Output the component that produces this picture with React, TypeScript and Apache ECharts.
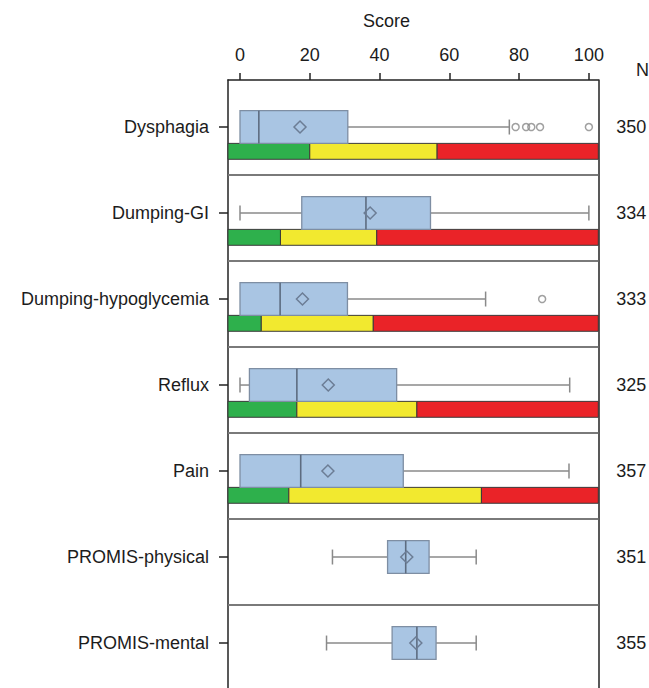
import React, { useEffect, useRef } from "react";
import * as echarts from "echarts";

// ---- data ----
const categories = [
  "Dysphagia",
  "Dumping-GI",
  "Dumping-hypoglycemia",
  "Reflux",
  "Pain",
  "PROMIS-physical",
  "PROMIS-mental",
];
const sampleSizes = [350, 334, 333, 325, 357, 351, 355];
const whiskerLow = [0, 0, 0, 0, 0, 26.5, 24.8];
const quartile1 = [0, 17.7, 0, 2.7, 0, 42.3, 43.6];
const medians = [5.4, 36.1, 11.5, 16.3, 17.4, 47.5, 50.7];
const quartile3 = [30.9, 54.6, 30.8, 44.9, 46.8, 54.2, 56.2];
const whiskerHigh = [77.2, 100, 70.4, 94.5, 94.3, 67.7, 67.7];
const means = [17.2, 37.3, 17.9, 25.3, 25.2, 47.8, 50.4];
const outliers: number[][] = [[79, 82, 83.5, 86, 100], [], [86.6], [], [], [], []];
// severity bands (green up to first, yellow up to second, red beyond)
const greenUpper = [20, 11.6, 6.1, 16.3, 14.0];
const yellowUpper = [56.5, 39.2, 38.2, 50.7, 69.2];
const xTicks = [0, 20, 40, 60, 80, 100];

// ---- layout constants ----
const ROW_OFFSET = 0.547;
const Y_MAX = 7.07;
const BOX_HALF = 0.19;
const BAND_BOTTOM = 0.375;
const CAP_HALF = 0.087;
const FONT = "'Liberation Sans', Arial, Helvetica, sans-serif";
const TEXT = "#1c1c1c";

export default function App() {
  const ref = useRef<HTMLDivElement>(null);

  useEffect(() => {
    if (!ref.current) return;
    const chart = echarts.init(ref.current, undefined, { renderer: "svg" });

    const rowCenters = categories.map((_, i) => i + ROW_OFFSET);
    const separators = categories.slice(0, -1).map((_, i) => i + ROW_OFFSET + 0.553);

    const boxData = categories.map((_, i) => [
      i,
      whiskerLow[i],
      quartile1[i],
      medians[i],
      quartile3[i],
      whiskerHigh[i],
      means[i],
    ]);
    const bandData = greenUpper.map((g, i) => [i, g, yellowUpper[i]]);
    const outlierData: number[][] = [];
    outliers.forEach((arr, i) => arr.forEach((v) => outlierData.push([v, i + ROW_OFFSET])));

    const whiskerStyle = { stroke: "#8a8a8a", lineWidth: 1.5 };

    const option: any = {
      animation: false,
      backgroundColor: "#ffffff",
      textStyle: { fontFamily: FONT },
      grid: {
        left: 228,
        right: 50.7,
        top: 80,
        bottom: 0,
        containLabel: false,
        outerBoundsMode: "none",
      },
      xAxis: {
        type: "value",
        position: "top",
        min: -3.44,
        max: 102.7,
        axisLine: { show: true, onZero: false, lineStyle: { color: "#222", width: 1.5 } },
        axisTick: {
          show: true,
          customValues: xTicks,
          length: 7,
          lineStyle: { color: "#222", width: 1.5 },
        },
        axisLabel: {
          customValues: xTicks,
          margin: 16,
          fontSize: 18,
          color: TEXT,
          fontFamily: FONT,
        },
        splitLine: { show: false },
      },
      yAxis: [
        {
          type: "value",
          inverse: true,
          min: 0,
          max: Y_MAX,
          position: "left",
          axisLine: { show: true, onZero: false, lineStyle: { color: "#222", width: 1.5 } },
          axisTick: {
            show: true,
            customValues: rowCenters,
            length: 9,
            lineStyle: { color: "#222", width: 1.5 },
          },
          axisLabel: {
            customValues: rowCenters,
            margin: 19,
            fontSize: 18,
            color: TEXT,
            fontFamily: FONT,
            formatter: (v: number) => categories[Math.round(v - ROW_OFFSET)] ?? "",
          },
          splitLine: { show: false },
        },
        {
          type: "value",
          inverse: true,
          min: 0,
          max: Y_MAX,
          position: "right",
          axisLine: { show: true, onZero: false, lineStyle: { color: "#222", width: 1.5 } },
          axisTick: { show: false },
          axisLabel: {
            customValues: rowCenters,
            margin: 18,
            fontSize: 18,
            color: TEXT,
            fontFamily: FONT,
            formatter: (v: number) => String(sampleSizes[Math.round(v - ROW_OFFSET)] ?? ""),
          },
          splitLine: { show: false },
        },
      ],
      graphic: [
        {
          type: "text",
          left: 387 - 24,
          top: 12,
          style: { text: "Score", fontSize: 18, fill: TEXT, fontFamily: FONT },
        },
        {
          type: "text",
          left: 636,
          top: 61,
          style: { text: "N", fontSize: 18, fill: TEXT, fontFamily: FONT },
        },
      ],
      series: [
        {
          type: "custom",
          name: "bands",
          xAxisIndex: 0,
          yAxisIndex: 0,
          data: bandData,
          encode: { x: [1, 2], y: 0 },
          renderItem: (params: any, api: any) => {
            const i = api.value(0);
            const yc = i + ROW_OFFSET;
            const cs = params.coordSys;
            const left = cs.x;
            const right = cs.x + cs.width;
            const top = api.coord([0, yc + BOX_HALF])[1];
            const bottom = api.coord([0, yc + BAND_BOTTOM])[1];
            const xg = api.coord([api.value(1), yc])[0];
            const xy = api.coord([api.value(2), yc])[0];
            const h = bottom - top;
            const stroke = { stroke: "#3a3a3a", lineWidth: 1 };
            return {
              type: "group",
              children: [
                { type: "rect", shape: { x: left, y: top, width: xg - left, height: h }, style: { fill: "#2eb04c", ...stroke } },
                { type: "rect", shape: { x: xg, y: top, width: xy - xg, height: h }, style: { fill: "#f2e92f", ...stroke } },
                { type: "rect", shape: { x: xy, y: top, width: right - xy, height: h }, style: { fill: "#ea2328", ...stroke } },
              ],
            };
          },
          z: 2,
        },
        {
          type: "custom",
          name: "boxes",
          xAxisIndex: 0,
          yAxisIndex: 0,
          data: boxData,
          encode: { x: [1, 2, 3, 4, 5, 6], y: 0 },
          renderItem: (params: any, api: any) => {
            const i = api.value(0);
            const yc = i + ROW_OFFSET;
            const lo = api.value(1);
            const q1 = api.value(2);
            const md = api.value(3);
            const q3 = api.value(4);
            const hi = api.value(5);
            const mn = api.value(6);
            const [xLo, yC] = api.coord([lo, yc]);
            const xQ1 = api.coord([q1, yc])[0];
            const xMd = api.coord([md, yc])[0];
            const xQ3 = api.coord([q3, yc])[0];
            const xHi = api.coord([hi, yc])[0];
            const xMn = api.coord([mn, yc])[0];
            const yTop = api.coord([0, yc - BOX_HALF])[1];
            const yBot = api.coord([0, yc + BOX_HALF])[1];
            const capT = api.coord([0, yc - CAP_HALF])[1];
            const capB = api.coord([0, yc + CAP_HALF])[1];
            const children: any[] = [];
            if (lo < q1) {
              children.push({ type: "line", shape: { x1: xLo, y1: yC, x2: xQ1, y2: yC }, style: whiskerStyle });
              children.push({ type: "line", shape: { x1: xLo, y1: capT, x2: xLo, y2: capB }, style: whiskerStyle });
            }
            if (hi > q3) {
              children.push({ type: "line", shape: { x1: xQ3, y1: yC, x2: xHi, y2: yC }, style: whiskerStyle });
              children.push({ type: "line", shape: { x1: xHi, y1: capT, x2: xHi, y2: capB }, style: whiskerStyle });
            }
            children.push({
              type: "rect",
              shape: { x: xQ1, y: yTop, width: xQ3 - xQ1, height: yBot - yTop },
              style: { fill: "#a9c5e3", stroke: "#7e8ea3", lineWidth: 1.3 },
            });
            children.push({
              type: "line",
              shape: { x1: xMd, y1: yTop, x2: xMd, y2: yBot },
              style: { stroke: "#5d6c80", lineWidth: 1.6 },
            });
            const d = 6;
            children.push({
              type: "polygon",
              shape: { points: [[xMn - d, yC], [xMn, yC - d], [xMn + d, yC], [xMn, yC + d]] },
              style: { fill: "none", stroke: "#6c7d95", lineWidth: 1.5 },
            });
            return { type: "group", children };
          },
          z: 3,
        },
        {
          type: "scatter",
          name: "outliers",
          xAxisIndex: 0,
          yAxisIndex: 0,
          data: outlierData,
          symbol: "circle",
          symbolSize: 7,
          itemStyle: { color: "rgba(0,0,0,0)", borderColor: "#888", borderWidth: 1.5 },
          z: 4,
          markLine: {
            silent: true,
            symbol: "none",
            label: { show: false },
            lineStyle: { color: "#7a7a7a", width: 2, type: "solid" },
            data: separators.map((v) => ({ yAxis: v })),
          },
        },
      ],
    };

    chart.setOption(option);
    return () => chart.dispose();
  }, []);

  return (
    <div
      ref={ref}
      style={{ position: "fixed", left: 0, top: 0, width: 649, height: 688, background: "#fff" }}
    />
  );
}
